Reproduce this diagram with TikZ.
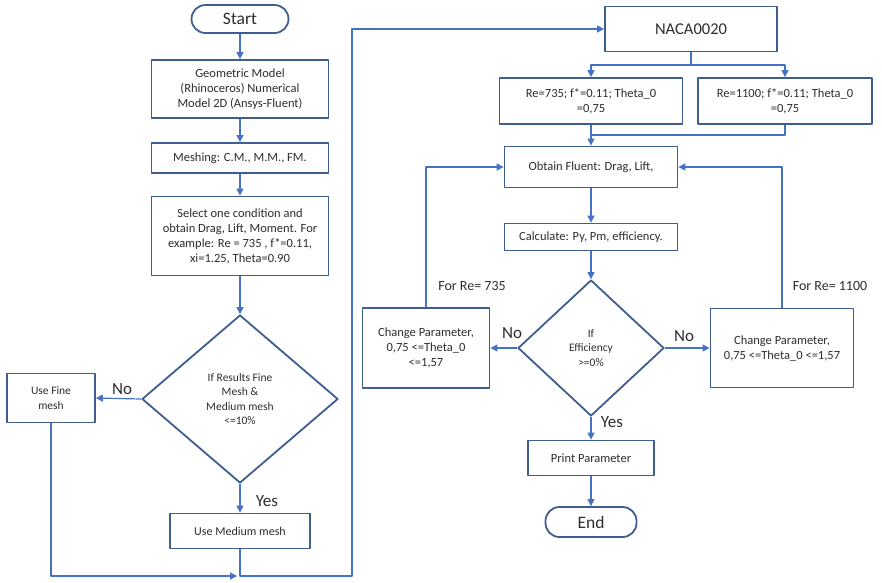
\documentclass[tikz,border=0pt]{standalone}
\usepackage{fontspec}
\setmainfont{Carlito}
\usetikzlibrary{shapes.geometric,arrows.meta}
\definecolor{boxline}{RGB}{62,93,145}
\definecolor{arrowblue}{RGB}{68,114,196}
\definecolor{txt}{RGB}{45,45,45}
\begin{document}
\begin{tikzpicture}[x=1pt, y=-1pt, line join=round, >={Triangle[length=7pt,width=7pt]},
	box/.style={draw=boxline, line width=1.8pt, fill=white, align=center, inner sep=2pt, text=txt, font=\fontsize{12.5}{15}\selectfont},
	term/.style={box, rounded corners=14pt, font=\fontsize{17.5}{20}\selectfont},
	decision/.style={diamond, draw=boxline, line width=1.8pt, align=center, inner sep=0pt, text=txt, font=\fontsize{11.5}{14.5}\selectfont},
	flow/.style={draw=arrowblue, line width=1.2pt},
	lbl/.style={text=txt, inner sep=0pt, font=\fontsize{17}{20}\selectfont}]
	\useasboundingbox (0,0) rectangle (882,582);
	% left column
	\node[term, minimum width=97, minimum height=28] (start) at (240,19) {Start};
	\node[box, minimum width=177, minimum height=58] (geo) at (240,89) {Geometric Model\\(Rhinoceros) Numerical\\Model 2D (Ansys-Fluent)};
	\node[box, minimum width=177, minimum height=30] (mesh) at (240,158) {Meshing: C.M., M.M., FM.};
	\node[box, minimum width=177, minimum height=79] (sel) at (240,236) {Select one condition and\\obtain Drag, Lift, Moment. For\\example: Re = 735 , f*=0.11,\\xi=1.25, Theta=0.90};
	\node[decision, minimum width=196, minimum height=168] (dec1) at (240,399) {If Results Fine\\Mesh \&\\Medium mesh\\<=10\%};
	\node[box, minimum width=88, minimum height=49, font=\fontsize{11.5}{14.5}\selectfont] (fine) at (51,398) {Use Fine\\mesh};
	\node[box, minimum width=140, minimum height=35, font=\fontsize{12}{14}\selectfont] (medium) at (240,531) {Use Medium mesh};
	% right column
	\node[box, minimum width=172, minimum height=45, font=\fontsize{16.5}{20}\selectfont] (naca) at (691,29) {NACA0020};
	\node[box, minimum width=183, minimum height=46] (re735) at (591,101) {Re=735; f*=0.11; Theta\_0\\=0,75};
	\node[box, minimum width=174, minimum height=46] (re1100) at (785,101) {Re=1100; f*=0.11; Theta\_0\\=0,75};
	\node[box, minimum width=173, minimum height=41] (fluent) at (591,167) {Obtain Fluent: Drag, Lift,};
	\node[box, minimum width=173, minimum height=27] (calc) at (591,237) {Calculate: Py, Pm, efficiency.};
	\node[decision, minimum width=146, minimum height=136] (dec2) at (591,348) {If\\Efficiency\\>=0\%};
	\node[box, minimum width=127, minimum height=80] (chL) at (426,348) {Change Parameter,\\0,75 <=Theta\_0\\<=1,57};
	\node[box, minimum width=143, minimum height=79] (chR) at (782,348) {Change Parameter,\\0,75 <=Theta\_0 <=1,57};
	\node[box, minimum width=126, minimum height=35] (print) at (591,458) {Print Parameter};
	\node[term, minimum width=91, minimum height=30] (end) at (591,522) {End};
	% labels
	\node[lbl] (no1) at (122,389) {No};
	\node[lbl] (yes1) at (267,501) {Yes};
	\node[lbl] (no2) at (512,333) {No};
	\node[lbl] (no3) at (684,336) {No};
	\node[lbl] (yes2) at (612,422) {Yes};
	\node[lbl, font=\fontsize{14}{17}\selectfont] (for735) at (472,286) {For Re= 735};
	\node[lbl, font=\fontsize{14}{17}\selectfont] (for1100) at (830,286) {For Re= 1100};
	% connectors
	\coordinate (join) at (237,576);
	\coordinate (turn) at (352,576);
	\coordinate (split) at (691,65);
	\coordinate (merge) at (591,135);
	\foreach \a/\b in {start/geo,geo/mesh,mesh/sel,sel/dec1,dec1/medium,re735/fluent,fluent/calc,calc/dec2,dec2/print,print/end}
	\draw[flow,->] (\a) -- (\b);
	\draw[flow,->] (dec1.west) -- (fine.east);
	\draw[flow,->] (fine.south) |- (join);
	\draw[flow,->] (medium.south) |- (turn) |- (naca.west);
	\draw[flow] (naca.south) -- (split);
	\draw[flow,->] (split) -| (re735.north);
	\draw[flow,->] (split) -| (re1100.north);
	\draw[flow] (re1100.south) |- (merge);
	\draw[flow,->] (dec2.west) -- (chL.east);
	\draw[flow,->] (dec2.east) -- (chR.west);
	\draw[flow,->] (chL.north) |- (fluent.west);
	\draw[flow,->] (chR.north) |- (fluent.east);
\end{tikzpicture}
\end{document}
